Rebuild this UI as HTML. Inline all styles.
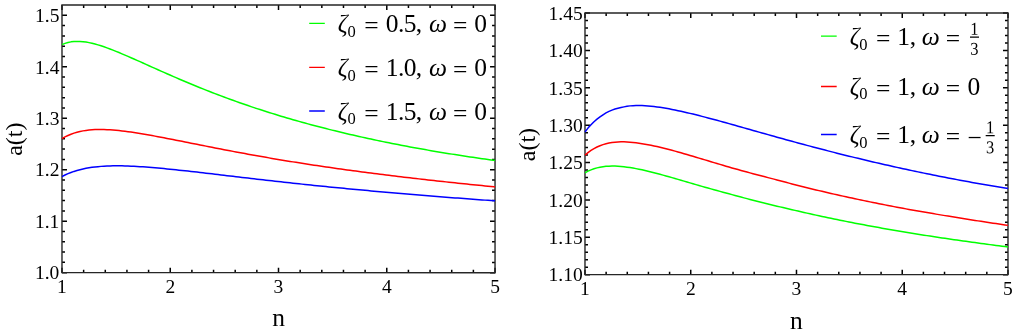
<!DOCTYPE html>
<html><head><meta charset="utf-8"><title>plot</title>
<style>
html,body{margin:0;padding:0;background:#fff;}
body{width:1014px;height:336px;overflow:hidden;font-family:"Liberation Serif",serif;}
svg{display:block;will-change:transform;}
text{font-family:"Liberation Serif",serif;fill:#000;}
.tl{font-size:19.5px;}
.lg{font-size:24px;}
.lg2{font-size:25.5px;}
.it{font-style:italic;}
</style></head><body>
<svg width="1014" height="336" viewBox="0 0 1014 336">
<rect width="1014" height="336" fill="#fff"/>
<g transform="rotate(0.004)">

<path d="M62.00,272.65v-5.0M62.00,5.0v5.0M170.26,272.65v-5.0M170.26,5.0v5.0M278.52,272.65v-5.0M278.52,5.0v5.0M386.79,272.65v-5.0M386.79,5.0v5.0M495.05,272.65v-5.0M495.05,5.0v5.0M83.65,272.65v-3.0M83.65,5.0v3.0M105.30,272.65v-3.0M105.30,5.0v3.0M126.96,272.65v-3.0M126.96,5.0v3.0M148.61,272.65v-3.0M148.61,5.0v3.0M191.92,272.65v-3.0M191.92,5.0v3.0M213.57,272.65v-3.0M213.57,5.0v3.0M235.22,272.65v-3.0M235.22,5.0v3.0M256.87,272.65v-3.0M256.87,5.0v3.0M300.18,272.65v-3.0M300.18,5.0v3.0M321.83,272.65v-3.0M321.83,5.0v3.0M343.48,272.65v-3.0M343.48,5.0v3.0M365.14,272.65v-3.0M365.14,5.0v3.0M408.44,272.65v-3.0M408.44,5.0v3.0M430.09,272.65v-3.0M430.09,5.0v3.0M451.74,272.65v-3.0M451.74,5.0v3.0M473.40,272.65v-3.0M473.40,5.0v3.0M62.0,272.65h5.0M495.05,272.65h-5.0M62.0,221.18h5.0M495.05,221.18h-5.0M62.0,169.71h5.0M495.05,169.71h-5.0M62.0,118.24h5.0M495.05,118.24h-5.0M62.0,66.77h5.0M495.05,66.77h-5.0M62.0,15.29h5.0M495.05,15.29h-5.0M62.0,262.36h3.0M495.05,262.36h-3.0M62.0,252.06h3.0M495.05,252.06h-3.0M62.0,241.77h3.0M495.05,241.77h-3.0M62.0,231.47h3.0M495.05,231.47h-3.0M62.0,210.88h3.0M495.05,210.88h-3.0M62.0,200.59h3.0M495.05,200.59h-3.0M62.0,190.30h3.0M495.05,190.30h-3.0M62.0,180.00h3.0M495.05,180.00h-3.0M62.0,159.41h3.0M495.05,159.41h-3.0M62.0,149.12h3.0M495.05,149.12h-3.0M62.0,138.82h3.0M495.05,138.82h-3.0M62.0,128.53h3.0M495.05,128.53h-3.0M62.0,107.94h3.0M495.05,107.94h-3.0M62.0,97.65h3.0M495.05,97.65h-3.0M62.0,87.35h3.0M495.05,87.35h-3.0M62.0,77.06h3.0M495.05,77.06h-3.0M62.0,56.47h3.0M495.05,56.47h-3.0M62.0,46.18h3.0M495.05,46.18h-3.0M62.0,35.88h3.0M495.05,35.88h-3.0M62.0,25.59h3.0M495.05,25.59h-3.0" stroke="#000" stroke-width="1.5" fill="none"/>
<rect x="62.0" y="5.0" width="433.05" height="267.65" fill="none" stroke="#262626" stroke-width="1.4"/>
<path d="M62.0,44.62 L65.0,43.38 L68.0,42.47 L71.0,41.86 L74.0,41.51 L77.0,41.38 L80.0,41.45 L83.0,41.70 L86.0,42.10 L89.0,42.63 L92.0,43.28 L95.0,44.04 L98.0,44.89 L101.0,45.82 L104.0,46.82 L107.0,47.87 L110.0,48.98 L113.0,50.14 L116.0,51.33 L119.0,52.56 L122.0,53.81 L125.0,55.08 L128.0,56.38 L131.0,57.69 L134.0,59.01 L137.0,60.34 L140.0,61.68 L143.0,63.03 L146.0,64.37 L149.0,65.72 L152.0,67.07 L155.0,68.41 L158.0,69.75 L161.0,71.09 L164.0,72.41 L167.0,73.74 L170.0,75.05 L173.0,76.36 L176.0,77.66 L179.0,78.95 L182.0,80.23 L185.0,81.49 L188.0,82.75 L191.0,84.00 L194.0,85.23 L197.0,86.46 L200.0,87.67 L203.0,88.88 L206.0,90.08 L209.0,91.26 L212.0,92.43 L215.0,93.59 L218.0,94.74 L221.0,95.88 L224.0,97.00 L227.0,98.11 L230.0,99.21 L233.0,100.30 L236.0,101.38 L239.0,102.44 L242.0,103.49 L245.0,104.53 L248.0,105.56 L251.0,106.58 L254.0,107.58 L257.0,108.58 L260.0,109.56 L263.0,110.53 L266.0,111.49 L269.0,112.44 L272.0,113.38 L275.0,114.31 L278.0,115.23 L281.0,116.14 L284.0,117.03 L287.0,117.92 L290.0,118.80 L293.0,119.66 L296.0,120.52 L299.0,121.37 L302.0,122.20 L305.0,123.03 L308.0,123.85 L311.0,124.66 L314.0,125.46 L317.0,126.25 L320.0,127.04 L323.0,127.81 L326.0,128.57 L329.0,129.33 L332.0,130.08 L335.0,130.82 L338.0,131.55 L341.0,132.27 L344.0,132.99 L347.0,133.69 L350.0,134.39 L353.0,135.08 L356.0,135.77 L359.0,136.44 L362.0,137.11 L365.0,137.77 L368.0,138.43 L371.0,139.07 L374.0,139.71 L377.0,140.35 L380.0,140.97 L383.0,141.59 L386.0,142.20 L389.0,142.81 L392.0,143.41 L395.0,144.00 L398.0,144.58 L401.0,145.16 L404.0,145.73 L407.0,146.30 L410.0,146.86 L413.0,147.41 L416.0,147.96 L419.0,148.50 L422.0,149.04 L425.0,149.57 L428.0,150.09 L431.0,150.61 L434.0,151.13 L437.0,151.63 L440.0,152.14 L443.0,152.63 L446.0,153.12 L449.0,153.61 L452.0,154.09 L455.0,154.56 L458.0,155.03 L461.0,155.50 L464.0,155.96 L467.0,156.41 L470.0,156.86 L473.0,157.30 L476.0,157.74 L479.0,158.18 L482.0,158.61 L485.0,159.03 L488.0,159.45 L491.0,159.86 L494.0,160.28 L495.1,160.42" fill="none" stroke="#00ff00" stroke-width="1.5" stroke-linejoin="round"/>
<path d="M62.0,138.66 L65.0,136.94 L68.0,135.46 L71.0,134.20 L74.0,133.12 L77.0,132.22 L80.0,131.48 L83.0,130.87 L86.0,130.38 L89.0,130.02 L92.0,129.75 L95.0,129.57 L98.0,129.48 L101.0,129.46 L104.0,129.51 L107.0,129.62 L110.0,129.79 L113.0,130.01 L116.0,130.27 L119.0,130.57 L122.0,130.90 L125.0,131.27 L128.0,131.66 L131.0,132.09 L134.0,132.53 L137.0,133.00 L140.0,133.48 L143.0,133.98 L146.0,134.50 L149.0,135.03 L152.0,135.57 L155.0,136.12 L158.0,136.68 L161.0,137.25 L164.0,137.82 L167.0,138.40 L170.0,138.98 L173.0,139.57 L176.0,140.16 L179.0,140.75 L182.0,141.34 L185.0,141.94 L188.0,142.53 L191.0,143.13 L194.0,143.72 L197.0,144.31 L200.0,144.90 L203.0,145.50 L206.0,146.10 L209.0,146.70 L212.0,147.29 L215.0,147.88 L218.0,148.47 L221.0,149.05 L224.0,149.63 L227.0,150.21 L230.0,150.78 L233.0,151.35 L236.0,151.92 L239.0,152.48 L242.0,153.04 L245.0,153.59 L248.0,154.14 L251.0,154.68 L254.0,155.22 L257.0,155.76 L260.0,156.29 L263.0,156.82 L266.0,157.34 L269.0,157.86 L272.0,158.37 L275.0,158.88 L278.0,159.39 L281.0,159.89 L284.0,160.39 L287.0,160.88 L290.0,161.37 L293.0,161.85 L296.0,162.33 L299.0,162.81 L302.0,163.28 L305.0,163.74 L308.0,164.21 L311.0,164.66 L314.0,165.12 L317.0,165.57 L320.0,166.02 L323.0,166.46 L326.0,166.90 L329.0,167.33 L332.0,167.77 L335.0,168.19 L338.0,168.62 L341.0,169.04 L344.0,169.45 L347.0,169.87 L350.0,170.28 L353.0,170.68 L356.0,171.09 L359.0,171.49 L362.0,171.88 L365.0,172.28 L368.0,172.67 L371.0,173.05 L374.0,173.44 L377.0,173.82 L380.0,174.19 L383.0,174.57 L386.0,174.94 L389.0,175.31 L392.0,175.68 L395.0,176.04 L398.0,176.40 L401.0,176.76 L404.0,177.11 L407.0,177.47 L410.0,177.82 L413.0,178.16 L416.0,178.51 L419.0,178.85 L422.0,179.19 L425.0,179.53 L428.0,179.87 L431.0,180.20 L434.0,180.53 L437.0,180.86 L440.0,181.19 L443.0,181.51 L446.0,181.84 L449.0,182.16 L452.0,182.48 L455.0,182.79 L458.0,183.11 L461.0,183.42 L464.0,183.73 L467.0,184.04 L470.0,184.35 L473.0,184.66 L476.0,184.96 L479.0,185.26 L482.0,185.56 L485.0,185.86 L488.0,186.16 L491.0,186.46 L494.0,186.75 L495.1,186.85" fill="none" stroke="#ff0000" stroke-width="1.5" stroke-linejoin="round"/>
<path d="M62.0,176.55 L65.0,175.03 L68.0,173.67 L71.0,172.47 L74.0,171.41 L77.0,170.48 L80.0,169.66 L83.0,168.94 L86.0,168.32 L89.0,167.79 L92.0,167.33 L95.0,166.95 L98.0,166.63 L101.0,166.37 L104.0,166.17 L107.0,166.01 L110.0,165.90 L113.0,165.84 L116.0,165.81 L119.0,165.82 L122.0,165.86 L125.0,165.93 L128.0,166.02 L131.0,166.14 L134.0,166.28 L137.0,166.45 L140.0,166.63 L143.0,166.83 L146.0,167.04 L149.0,167.27 L152.0,167.51 L155.0,167.77 L158.0,168.03 L161.0,168.31 L164.0,168.59 L167.0,168.88 L170.0,169.18 L173.0,169.49 L176.0,169.80 L179.0,170.12 L182.0,170.44 L185.0,170.76 L188.0,171.09 L191.0,171.43 L194.0,171.76 L197.0,172.10 L200.0,172.44 L203.0,172.79 L206.0,173.14 L209.0,173.50 L212.0,173.85 L215.0,174.21 L218.0,174.56 L221.0,174.92 L224.0,175.27 L227.0,175.63 L230.0,175.99 L233.0,176.34 L236.0,176.69 L239.0,177.05 L242.0,177.40 L245.0,177.75 L248.0,178.10 L251.0,178.45 L254.0,178.79 L257.0,179.14 L260.0,179.48 L263.0,179.82 L266.0,180.16 L269.0,180.50 L272.0,180.84 L275.0,181.17 L278.0,181.51 L281.0,181.84 L284.0,182.17 L287.0,182.50 L290.0,182.82 L293.0,183.15 L296.0,183.47 L299.0,183.79 L302.0,184.10 L305.0,184.42 L308.0,184.73 L311.0,185.05 L314.0,185.36 L317.0,185.66 L320.0,185.97 L323.0,186.27 L326.0,186.57 L329.0,186.87 L332.0,187.17 L335.0,187.47 L338.0,187.76 L341.0,188.05 L344.0,188.34 L347.0,188.63 L350.0,188.92 L353.0,189.20 L356.0,189.48 L359.0,189.76 L362.0,190.04 L365.0,190.32 L368.0,190.59 L371.0,190.86 L374.0,191.14 L377.0,191.40 L380.0,191.67 L383.0,191.94 L386.0,192.20 L389.0,192.46 L392.0,192.73 L395.0,192.98 L398.0,193.24 L401.0,193.50 L404.0,193.75 L407.0,194.00 L410.0,194.26 L413.0,194.51 L416.0,194.75 L419.0,195.00 L422.0,195.25 L425.0,195.49 L428.0,195.73 L431.0,195.97 L434.0,196.21 L437.0,196.45 L440.0,196.69 L443.0,196.92 L446.0,197.16 L449.0,197.39 L452.0,197.62 L455.0,197.85 L458.0,198.08 L461.0,198.31 L464.0,198.53 L467.0,198.76 L470.0,198.98 L473.0,199.21 L476.0,199.43 L479.0,199.65 L482.0,199.87 L485.0,200.09 L488.0,200.31 L491.0,200.52 L494.0,200.74 L495.1,200.81" fill="none" stroke="#0000ff" stroke-width="1.5" stroke-linejoin="round"/>
<text class="tl" x="59.4" y="279.3" text-anchor="end">1.0</text>
<text class="tl" x="59.4" y="227.9" text-anchor="end">1.1</text>
<text class="tl" x="59.4" y="176.4" text-anchor="end">1.2</text>
<text class="tl" x="59.4" y="124.9" text-anchor="end">1.3</text>
<text class="tl" x="59.4" y="73.5" text-anchor="end">1.4</text>
<text class="tl" x="59.4" y="22.0" text-anchor="end">1.5</text>
<text class="tl" x="62.0" y="292.7" text-anchor="middle">1</text>
<text class="tl" x="170.3" y="292.7" text-anchor="middle">2</text>
<text class="tl" x="278.5" y="292.7" text-anchor="middle">3</text>
<text class="tl" x="386.8" y="292.7" text-anchor="middle">4</text>
<text class="tl" x="495.1" y="292.7" text-anchor="middle">5</text>
<text class="lg2" x="278.6" y="326.4" text-anchor="middle">n</text>
<text class="lg" transform="translate(22.3,139.2) rotate(-90)" text-anchor="middle">a(t)</text>
<path d="M309.2,23.4H324.8" stroke="#00ff00" stroke-width="1.4"/>
<text class="it" font-size="24.5px" x="337.8" y="32.1">ζ</text><text font-size="16.5px" x="347.4" y="36.8">0</text><text class="lg2" x="364.2" y="34.2">=</text><text class="lg2 it" x="429.0" y="32.1">ω</text><text class="lg2" x="453.0" y="34.2">=</text><text class="lg2" x="385.8" y="32.1" letter-spacing="-0.6">0.5,</text><text class="lg2" x="474.2" y="32.1">0</text>
<path d="M309.2,67.4H324.8" stroke="#ff0000" stroke-width="1.4"/>
<text class="it" font-size="24.5px" x="337.8" y="76.1">ζ</text><text font-size="16.5px" x="347.4" y="80.8">0</text><text class="lg2" x="364.2" y="78.2">=</text><text class="lg2 it" x="429.0" y="76.1">ω</text><text class="lg2" x="453.0" y="78.2">=</text><text class="lg2" x="385.8" y="76.1" letter-spacing="-0.6">1.0,</text><text class="lg2" x="474.2" y="76.1">0</text>
<path d="M309.2,111.0H324.8" stroke="#0000ff" stroke-width="1.4"/>
<text class="it" font-size="24.5px" x="337.8" y="119.7">ζ</text><text font-size="16.5px" x="347.4" y="124.4">0</text><text class="lg2" x="364.2" y="121.8">=</text><text class="lg2 it" x="429.0" y="119.7">ω</text><text class="lg2" x="453.0" y="121.8">=</text><text class="lg2" x="385.8" y="119.7" letter-spacing="-0.6">1.5,</text><text class="lg2" x="474.2" y="119.7">0</text>
<path d="M585.00,274.6v-5.0M585.00,13.0v5.0M690.75,274.6v-5.0M690.75,13.0v5.0M796.50,274.6v-5.0M796.50,13.0v5.0M902.25,274.6v-5.0M902.25,13.0v5.0M1008.00,274.6v-5.0M1008.00,13.0v5.0M606.15,274.6v-3.0M606.15,13.0v3.0M627.30,274.6v-3.0M627.30,13.0v3.0M648.45,274.6v-3.0M648.45,13.0v3.0M669.60,274.6v-3.0M669.60,13.0v3.0M711.90,274.6v-3.0M711.90,13.0v3.0M733.05,274.6v-3.0M733.05,13.0v3.0M754.20,274.6v-3.0M754.20,13.0v3.0M775.35,274.6v-3.0M775.35,13.0v3.0M817.65,274.6v-3.0M817.65,13.0v3.0M838.80,274.6v-3.0M838.80,13.0v3.0M859.95,274.6v-3.0M859.95,13.0v3.0M881.10,274.6v-3.0M881.10,13.0v3.0M923.40,274.6v-3.0M923.40,13.0v3.0M944.55,274.6v-3.0M944.55,13.0v3.0M965.70,274.6v-3.0M965.70,13.0v3.0M986.85,274.6v-3.0M986.85,13.0v3.0M585.0,274.60h5.0M1008.0,274.60h-5.0M585.0,237.23h5.0M1008.0,237.23h-5.0M585.0,199.86h5.0M1008.0,199.86h-5.0M585.0,162.49h5.0M1008.0,162.49h-5.0M585.0,125.11h5.0M1008.0,125.11h-5.0M585.0,87.74h5.0M1008.0,87.74h-5.0M585.0,50.37h5.0M1008.0,50.37h-5.0M585.0,13.00h5.0M1008.0,13.00h-5.0M585.0,267.13h3.0M1008.0,267.13h-3.0M585.0,259.65h3.0M1008.0,259.65h-3.0M585.0,252.18h3.0M1008.0,252.18h-3.0M585.0,244.70h3.0M1008.0,244.70h-3.0M585.0,229.75h3.0M1008.0,229.75h-3.0M585.0,222.28h3.0M1008.0,222.28h-3.0M585.0,214.81h3.0M1008.0,214.81h-3.0M585.0,207.33h3.0M1008.0,207.33h-3.0M585.0,192.38h3.0M1008.0,192.38h-3.0M585.0,184.91h3.0M1008.0,184.91h-3.0M585.0,177.43h3.0M1008.0,177.43h-3.0M585.0,169.96h3.0M1008.0,169.96h-3.0M585.0,155.01h3.0M1008.0,155.01h-3.0M585.0,147.54h3.0M1008.0,147.54h-3.0M585.0,140.06h3.0M1008.0,140.06h-3.0M585.0,132.59h3.0M1008.0,132.59h-3.0M585.0,117.64h3.0M1008.0,117.64h-3.0M585.0,110.17h3.0M1008.0,110.17h-3.0M585.0,102.69h3.0M1008.0,102.69h-3.0M585.0,95.22h3.0M1008.0,95.22h-3.0M585.0,80.27h3.0M1008.0,80.27h-3.0M585.0,72.79h3.0M1008.0,72.79h-3.0M585.0,65.32h3.0M1008.0,65.32h-3.0M585.0,57.85h3.0M1008.0,57.85h-3.0M585.0,42.90h3.0M1008.0,42.90h-3.0M585.0,35.42h3.0M1008.0,35.42h-3.0M585.0,27.95h3.0M1008.0,27.95h-3.0M585.0,20.47h3.0M1008.0,20.47h-3.0" stroke="#000" stroke-width="1.5" fill="none"/>
<rect x="585.0" y="13.0" width="423.0" height="261.6" fill="none" stroke="#262626" stroke-width="1.4"/>
<path d="M585.0,172.76 L588.0,171.14 L591.0,169.79 L594.0,168.70 L597.0,167.83 L600.0,167.15 L603.0,166.65 L606.0,166.30 L609.0,166.10 L612.0,166.02 L615.0,166.05 L618.0,166.19 L621.0,166.41 L624.0,166.71 L627.0,167.09 L630.0,167.53 L633.0,168.03 L636.0,168.58 L639.0,169.17 L642.0,169.81 L645.0,170.48 L648.0,171.19 L651.0,171.92 L654.0,172.68 L657.0,173.46 L660.0,174.25 L663.0,175.07 L666.0,175.90 L669.0,176.74 L672.0,177.59 L675.0,178.45 L678.0,179.32 L681.0,180.19 L684.0,181.07 L687.0,181.95 L690.0,182.83 L693.0,183.72 L696.0,184.60 L699.0,185.48 L702.0,186.34 L705.0,187.18 L708.0,188.02 L711.0,188.85 L714.0,189.68 L717.0,190.51 L720.0,191.33 L723.0,192.15 L726.0,192.97 L729.0,193.78 L732.0,194.59 L735.0,195.40 L738.0,196.21 L741.0,197.01 L744.0,197.80 L747.0,198.59 L750.0,199.37 L753.0,200.15 L756.0,200.92 L759.0,201.68 L762.0,202.43 L765.0,203.18 L768.0,203.92 L771.0,204.66 L774.0,205.38 L777.0,206.10 L780.0,206.82 L783.0,207.52 L786.0,208.23 L789.0,208.92 L792.0,209.62 L795.0,210.33 L798.0,211.03 L801.0,211.72 L804.0,212.40 L807.0,213.08 L810.0,213.75 L813.0,214.42 L816.0,215.08 L819.0,215.73 L822.0,216.38 L825.0,217.02 L828.0,217.65 L831.0,218.28 L834.0,218.90 L837.0,219.52 L840.0,220.13 L843.0,220.73 L846.0,221.33 L849.0,221.92 L852.0,222.51 L855.0,223.09 L858.0,223.67 L861.0,224.24 L864.0,224.80 L867.0,225.36 L870.0,225.92 L873.0,226.47 L876.0,227.01 L879.0,227.55 L882.0,228.09 L885.0,228.62 L888.0,229.14 L891.0,229.66 L894.0,230.18 L897.0,230.69 L900.0,231.19 L903.0,231.70 L906.0,232.19 L909.0,232.69 L912.0,233.17 L915.0,233.66 L918.0,234.14 L921.0,234.61 L924.0,235.09 L927.0,235.56 L930.0,236.02 L933.0,236.48 L936.0,236.94 L939.0,237.39 L942.0,237.84 L945.0,238.28 L948.0,238.72 L951.0,239.16 L954.0,239.60 L957.0,240.03 L960.0,240.45 L963.0,240.88 L966.0,241.30 L969.0,241.72 L972.0,242.13 L975.0,242.54 L978.0,242.95 L981.0,243.36 L984.0,243.76 L987.0,244.16 L990.0,244.55 L993.0,244.95 L996.0,245.34 L999.0,245.72 L1002.0,246.11 L1005.0,246.49 L1008.0,246.87" fill="none" stroke="#00ff00" stroke-width="1.5" stroke-linejoin="round"/>
<path d="M585.0,155.14 L588.0,152.59 L591.0,150.41 L594.0,148.54 L597.0,146.97 L600.0,145.65 L603.0,144.57 L606.0,143.70 L609.0,143.01 L612.0,142.50 L615.0,142.13 L618.0,141.90 L621.0,141.80 L624.0,141.81 L627.0,141.91 L630.0,142.11 L633.0,142.39 L636.0,142.74 L639.0,143.15 L642.0,143.61 L645.0,144.12 L648.0,144.67 L651.0,145.26 L654.0,145.90 L657.0,146.56 L660.0,147.26 L663.0,147.98 L666.0,148.73 L669.0,149.50 L672.0,150.28 L675.0,151.09 L678.0,151.90 L681.0,152.74 L684.0,153.61 L687.0,154.49 L690.0,155.37 L693.0,156.26 L696.0,157.15 L699.0,158.05 L702.0,158.95 L705.0,159.85 L708.0,160.75 L711.0,161.65 L714.0,162.55 L717.0,163.45 L720.0,164.35 L723.0,165.24 L726.0,166.13 L729.0,167.02 L732.0,167.87 L735.0,168.71 L738.0,169.54 L741.0,170.37 L744.0,171.19 L747.0,172.01 L750.0,172.82 L753.0,173.63 L756.0,174.43 L759.0,175.22 L762.0,176.01 L765.0,176.79 L768.0,177.56 L771.0,178.33 L774.0,179.09 L777.0,179.89 L780.0,180.69 L783.0,181.49 L786.0,182.29 L789.0,183.07 L792.0,183.85 L795.0,184.62 L798.0,185.39 L801.0,186.15 L804.0,186.90 L807.0,187.65 L810.0,188.39 L813.0,189.12 L816.0,189.85 L819.0,190.57 L822.0,191.28 L825.0,191.99 L828.0,192.69 L831.0,193.37 L834.0,194.06 L837.0,194.74 L840.0,195.41 L843.0,196.07 L846.0,196.73 L849.0,197.39 L852.0,198.03 L855.0,198.68 L858.0,199.31 L861.0,199.95 L864.0,200.57 L867.0,201.19 L870.0,201.81 L873.0,202.42 L876.0,203.03 L879.0,203.63 L882.0,204.22 L885.0,204.81 L888.0,205.40 L891.0,205.98 L894.0,206.56 L897.0,207.13 L900.0,207.70 L903.0,208.25 L906.0,208.80 L909.0,209.34 L912.0,209.88 L915.0,210.41 L918.0,210.94 L921.0,211.47 L924.0,211.99 L927.0,212.51 L930.0,213.03 L933.0,213.54 L936.0,214.05 L939.0,214.55 L942.0,215.05 L945.0,215.55 L948.0,216.04 L951.0,216.53 L954.0,217.02 L957.0,217.50 L960.0,217.98 L963.0,218.46 L966.0,218.94 L969.0,219.41 L972.0,219.88 L975.0,220.34 L978.0,220.81 L981.0,221.27 L984.0,221.73 L987.0,222.18 L990.0,222.63 L993.0,223.08 L996.0,223.53 L999.0,223.98 L1002.0,224.42 L1005.0,224.86 L1008.0,225.30" fill="none" stroke="#ff0000" stroke-width="1.5" stroke-linejoin="round"/>
<path d="M585.0,131.91 L588.0,128.07 L591.0,124.70 L594.0,121.74 L597.0,119.15 L600.0,116.89 L603.0,114.75 L606.0,112.88 L609.0,111.37 L612.0,110.08 L615.0,109.02 L618.0,108.23 L621.0,107.53 L624.0,106.84 L627.0,106.28 L630.0,105.83 L633.0,105.62 L636.0,105.50 L639.0,105.48 L642.0,105.54 L645.0,105.68 L648.0,105.89 L651.0,106.16 L654.0,106.49 L657.0,106.87 L660.0,107.29 L663.0,107.76 L666.0,108.26 L669.0,108.80 L672.0,109.37 L675.0,109.97 L678.0,110.60 L681.0,111.25 L684.0,111.92 L687.0,112.61 L690.0,113.32 L693.0,114.05 L696.0,114.79 L699.0,115.54 L702.0,116.31 L705.0,117.08 L708.0,117.87 L711.0,118.66 L714.0,119.46 L717.0,120.27 L720.0,121.08 L723.0,121.91 L726.0,122.75 L729.0,123.59 L732.0,124.43 L735.0,125.28 L738.0,126.12 L741.0,126.97 L744.0,127.82 L747.0,128.67 L750.0,129.52 L753.0,130.37 L756.0,131.21 L759.0,132.06 L762.0,132.91 L765.0,133.75 L768.0,134.59 L771.0,135.44 L774.0,136.27 L777.0,137.11 L780.0,137.94 L783.0,138.77 L786.0,139.60 L789.0,140.42 L792.0,141.24 L795.0,142.06 L798.0,142.88 L801.0,143.69 L804.0,144.49 L807.0,145.30 L810.0,146.09 L813.0,146.89 L816.0,147.68 L819.0,148.47 L822.0,149.25 L825.0,150.03 L828.0,150.80 L831.0,151.57 L834.0,152.33 L837.0,153.09 L840.0,153.85 L843.0,154.60 L846.0,155.34 L849.0,156.09 L852.0,156.82 L855.0,157.56 L858.0,158.28 L861.0,159.01 L864.0,159.72 L867.0,160.44 L870.0,161.15 L873.0,161.85 L876.0,162.55 L879.0,163.24 L882.0,163.93 L885.0,164.61 L888.0,165.29 L891.0,165.97 L894.0,166.64 L897.0,167.30 L900.0,167.96 L903.0,168.62 L906.0,169.27 L909.0,169.91 L912.0,170.55 L915.0,171.19 L918.0,171.82 L921.0,172.44 L924.0,173.06 L927.0,173.68 L930.0,174.29 L933.0,174.90 L936.0,175.50 L939.0,176.09 L942.0,176.69 L945.0,177.27 L948.0,177.85 L951.0,178.43 L954.0,179.00 L957.0,179.57 L960.0,180.13 L963.0,180.69 L966.0,181.24 L969.0,181.79 L972.0,182.33 L975.0,182.87 L978.0,183.41 L981.0,183.94 L984.0,184.46 L987.0,184.98 L990.0,185.50 L993.0,186.01 L996.0,186.51 L999.0,187.01 L1002.0,187.51 L1005.0,188.00 L1008.0,188.49" fill="none" stroke="#0000ff" stroke-width="1.5" stroke-linejoin="round"/>
<text class="tl" x="582.7" y="281.4" text-anchor="end">1.10</text>
<text class="tl" x="582.7" y="244.0" text-anchor="end">1.15</text>
<text class="tl" x="582.7" y="206.7" text-anchor="end">1.20</text>
<text class="tl" x="582.7" y="169.3" text-anchor="end">1.25</text>
<text class="tl" x="582.7" y="131.9" text-anchor="end">1.30</text>
<text class="tl" x="582.7" y="94.5" text-anchor="end">1.35</text>
<text class="tl" x="582.7" y="57.2" text-anchor="end">1.40</text>
<text class="tl" x="582.7" y="19.8" text-anchor="end">1.45</text>
<text class="tl" x="585.0" y="295.2" text-anchor="middle">1</text>
<text class="tl" x="690.8" y="295.2" text-anchor="middle">2</text>
<text class="tl" x="796.5" y="295.2" text-anchor="middle">3</text>
<text class="tl" x="902.2" y="295.2" text-anchor="middle">4</text>
<text class="tl" x="1008.0" y="295.2" text-anchor="middle">5</text>
<text class="lg2" x="796.5" y="328.9" text-anchor="middle">n</text>
<text class="lg" transform="translate(535.3,144.5) rotate(-90)" text-anchor="middle">a(t)</text>
<path d="M821.0,36.1H836.7" stroke="#00ff00" stroke-width="1.4"/>
<text class="it" font-size="24.5px" x="849.7" y="44.8">ζ</text><text font-size="16.5px" x="859.3" y="49.5">0</text><text class="lg2" x="876.1" y="46.9">=</text><text class="lg2 it" x="921.8" y="44.8">ω</text><text class="lg2" x="945.7" y="46.9">=</text><text class="lg2" x="897.3" y="44.8" letter-spacing="-0.3">1,</text>
<text font-size="17.2px" text-anchor="middle" transform="translate(974.5,34.7) rotate(0.05) scale(0.96,1.05)">1</text>
<text font-size="17.2px" text-anchor="middle" transform="translate(974.5,54.7) rotate(0.05) scale(0.96,1.05)">3</text>
<path d="M970.0,37.15h9" stroke="#000" stroke-width="1.2"/>
<path d="M821.0,86.5H836.7" stroke="#ff0000" stroke-width="1.4"/>
<text class="it" font-size="24.5px" x="849.7" y="94.7">ζ</text><text font-size="16.5px" x="859.3" y="99.4">0</text><text class="lg2" x="876.1" y="96.8">=</text><text class="lg2 it" x="921.8" y="94.7">ω</text><text class="lg2" x="945.7" y="96.8">=</text><text class="lg2" x="897.3" y="94.7" letter-spacing="-0.3">1,</text><text class="lg2" x="967.4" y="94.7">0</text>
<path d="M821.0,134.4H836.7" stroke="#0000ff" stroke-width="1.4"/>
<text class="it" font-size="24.5px" x="849.7" y="143.2">ζ</text><text font-size="16.5px" x="859.3" y="147.9">0</text><text class="lg2" x="876.1" y="145.3">=</text><text class="lg2 it" x="921.8" y="143.2">ω</text><text class="lg2" x="945.7" y="145.3">=</text><text class="lg2" x="897.3" y="143.2" letter-spacing="-0.3">1,</text><text class="lg2" x="967.6" y="145.5">−</text>
<text font-size="17.2px" text-anchor="middle" transform="translate(990.2,133.1) rotate(0.05) scale(0.96,1.05)">1</text>
<text font-size="17.2px" text-anchor="middle" transform="translate(990.2,153.1) rotate(0.05) scale(0.96,1.05)">3</text>
<path d="M985.7,135.55h9" stroke="#000" stroke-width="1.2"/>
</g></svg></body></html>
